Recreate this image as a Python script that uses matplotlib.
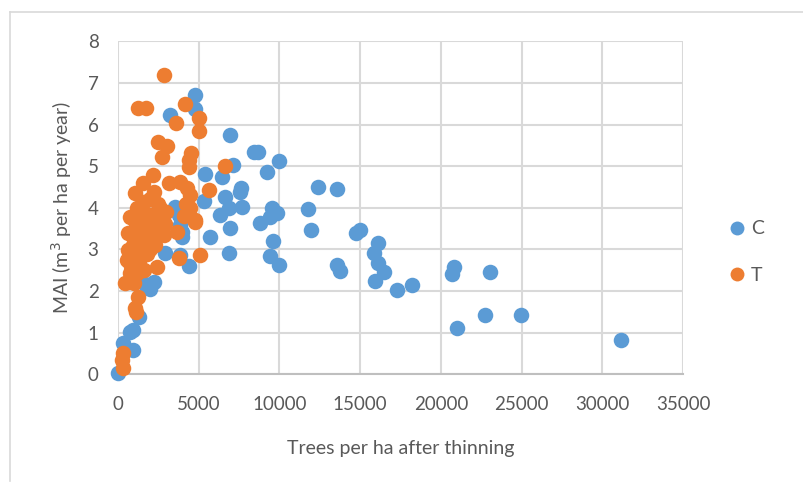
"""
MAI against stand density after thinning, control (C) vs thinned (T)
"""
import numpy as np
import matplotlib.pyplot as plt
from matplotlib.lines import Line2D

# control plots: trees per ha, MAI
c_trees = [31150, 24950, 22720, 21000, 20790, 20710, 23030, 18240, 17270, 16500,
           16090, 15920, 15880, 16090, 14740, 15000, 13560, 13760, 13560, 12360,
           11800, 11940, 9970, 9250, 8450, 8660, 9560, 9870, 9410, 8770,
           9620, 9410, 9970, 6920, 7130, 5410, 6450, 7590, 7550, 6650,
           5300, 7670, 6860, 6340, 6920, 5720, 6860, 4790, 4790, 3230,
           3545, 3750, 3860, 3960, 3960, 3650, 2920, 3860, 4370, 1990,
           1680, 2200, 1320, 750, 950, 330, 950, 20]
c_mai = [0.82, 1.42, 1.42, 1.10, 2.58, 2.41, 2.45, 2.14, 2.02, 2.45,
         2.68, 2.24, 2.91, 3.16, 3.39, 3.47, 2.62, 2.48, 4.45, 4.49,
         3.96, 3.47, 5.13, 4.85, 5.35, 5.35, 3.99, 3.88, 3.79, 3.63,
         3.19, 2.83, 2.62, 5.75, 5.03, 4.81, 4.75, 4.47, 4.39, 4.27,
         4.17, 4.03, 3.99, 3.83, 3.51, 3.29, 2.91, 6.71, 6.37, 6.23,
         4.03, 3.83, 3.59, 3.43, 3.31, 3.95, 2.91, 2.87, 2.60, 2.06,
         2.18, 2.22, 1.38, 1.02, 1.06, 0.74, 0.58, 0.02]

# thinned plots
t_trees = [2860, 1260, 1740, 4150, 3610, 4990, 4990, 2450, 3030, 2720,
           4520, 4370, 4370, 6650, 5620, 2160, 1570, 1060, 2200, 3130,
           3860, 4270, 4480, 1570, 2610, 950, 4480, 4790, 4790, 3650,
           2820, 850, 3750, 5060, 750, 640, 540, 750, 435, 1160,
           2410, 1260, 1060, 1120, 330, 230, 330,
           600, 900, 1000, 1100, 1200, 1300, 1400, 1500, 1600, 1700,
           1800, 1900, 2000, 2100, 2200, 2300, 2400, 2500, 2600, 2700,
           2900, 3000, 800, 1000, 1300, 1600, 1800, 2000,
           4200, 4100]
t_mai = [7.20, 6.39, 6.39, 6.50, 6.03, 6.15, 5.85, 5.59, 5.49, 5.23,
         5.31, 5.15, 4.99, 5.00, 4.43, 4.79, 4.59, 4.35, 4.39, 4.59,
         4.63, 4.47, 4.31, 4.15, 3.99, 3.75, 3.99, 3.67, 3.71, 3.43,
         3.35, 3.35, 2.79, 2.87, 3.79, 2.99, 2.75, 2.43, 2.19, 2.43,
         2.58, 1.86, 1.58, 1.50, 0.50, 0.34, 0.14,
         3.40, 3.10, 2.80, 3.60, 4.00, 3.30, 3.90, 2.90, 3.60, 3.20,
         3.85, 3.50, 4.20, 3.40, 3.75, 3.10, 3.60, 4.10, 3.45, 3.80,
         3.60, 3.90, 2.60, 2.20, 2.70, 2.50, 2.90, 3.00,
         4.10, 3.80]

x_ticks = np.arange(0, 35001, 5000)
y_ticks = np.arange(0, 9, 1)

blue = '#5B9BD5'
orange = '#ED7D31'
grey_txt = '#595959'
grid_col = '#D9D9D9'

plt.rcParams['font.family'] = ['Lato', 'DejaVu Sans']

fig = plt.figure(figsize=(8.04, 4.87), dpi=100)
ax = fig.add_axes([118 / 804, 1 - 374.2 / 487, (683 - 118) / 804, (374.2 - 41.4) / 487])

ax.scatter(c_trees, c_mai, s=125, color=blue, linewidths=0, zorder=3, clip_on=False)
ax.scatter(t_trees, t_mai, s=125, color=orange, linewidths=0, zorder=4, clip_on=False)

ax.set_xlim(0, 35000)
ax.set_ylim(0, 8)
ax.set_xticks(x_ticks)
ax.set_yticks(y_ticks)
ax.grid(True, color=grid_col, linewidth=1.5, zorder=0)
ax.set_axisbelow(True)
for side in ['top', 'right', 'left']:
    ax.spines[side].set_visible(False)
ax.spines['bottom'].set_color('#BFBFBF')
ax.spines['bottom'].set_linewidth(1.5)
ax.tick_params(length=0, labelsize=13.5, colors=grey_txt)
ax.tick_params(axis='x', pad=16)
ax.tick_params(axis='y', pad=14)

ax.set_xlabel('Trees per ha after thinning', fontsize=14, color=grey_txt, labelpad=19)
ax.set_ylabel('MAI (m$^3$ per ha per year)', fontsize=14, color=grey_txt, labelpad=10)

handles = [Line2D([], [], marker='o', linestyle='', markersize=10, color=blue, markeredgewidth=0),
           Line2D([], [], marker='o', linestyle='', markersize=10, color=orange, markeredgewidth=0)]
leg = fig.legend(handles, ['C', 'T'], loc='center left', bbox_to_anchor=(708 / 804, 1 - 252 / 487),
                 frameon=False, fontsize=14, handletextpad=0.1, labelspacing=1.5, handlelength=1.2)
for t in leg.get_texts():
    t.set_color(grey_txt)

# chart area border
fig.add_artist(Line2D([10 / 804, 1], [1 - 12 / 487, 1 - 12 / 487], color=grid_col, lw=1.2))
fig.add_artist(Line2D([10 / 804, 10 / 804], [1 - 12 / 487, 1 - 481 / 487], color=grid_col, lw=1.2))

fig.savefig('out.png', dpi=100)
